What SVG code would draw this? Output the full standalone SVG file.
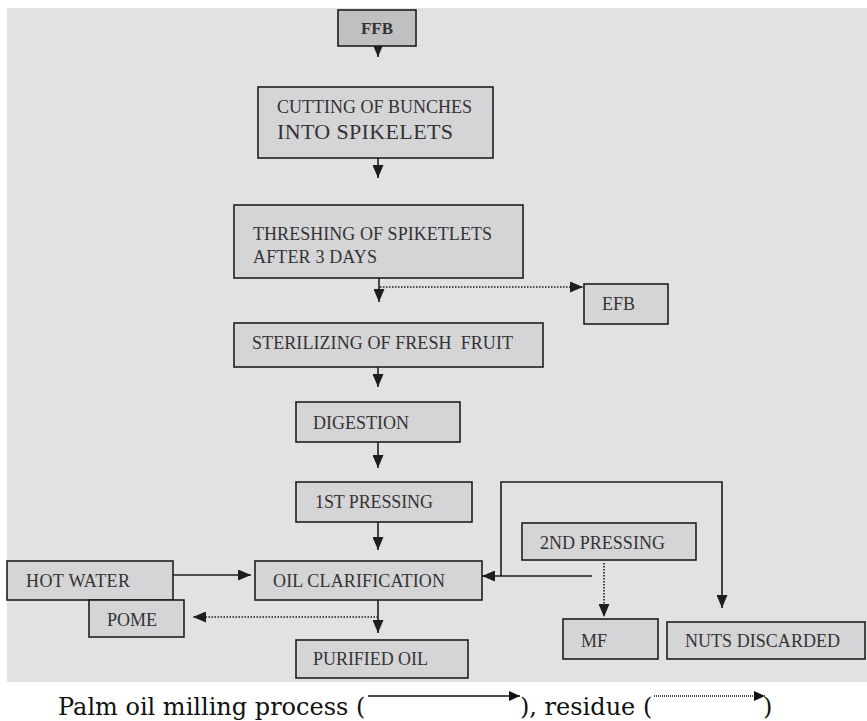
<svg xmlns="http://www.w3.org/2000/svg" width="867" height="721" viewBox="0 0 867 721">
<defs>
<marker id="ah" viewBox="0 0 13 11" refX="13" refY="5.5" markerWidth="13" markerHeight="11" markerUnits="userSpaceOnUse" orient="auto">
<path d="M0,0 L13,5.5 L0,11 z" fill="#1e1e1e"/>
</marker>
<marker id="ahs" viewBox="0 0 11 10" refX="11" refY="5" markerWidth="11" markerHeight="10" markerUnits="userSpaceOnUse" orient="auto">
<path d="M0,0 L11,5 L0,10 z" fill="#111"/>
</marker>
</defs>
<style>
.box{fill:#d5d4d7;stroke:#1e1e1e;stroke-width:1.6}
.t{font-family:"Liberation Serif","Times New Roman",serif;font-size:18px;fill:#333333}
.c{fill:none;stroke:#1e1e1e;stroke-width:1.6}
.d{fill:none;stroke:#1e1e1e;stroke-width:1.6;stroke-dasharray:1.5 1.5}
.cap{font-family:"DejaVu Serif",serif;font-size:24px;fill:#111}
</style>
<rect x="0" y="0" width="867" height="721" fill="#ffffff"/>
<rect x="7" y="8" width="860" height="674" fill="#e2e1e4"/>

<g id="connectors">
<path class="c" d="M378,46 V57" marker-end="url(#ah)"/>
<path class="c" d="M378,158 V178" marker-end="url(#ah)"/>
<path class="c" d="M379,278 V302" marker-end="url(#ah)"/>
<path class="d" d="M380,287 H583" marker-end="url(#ah)"/>
<path class="c" d="M378,367 V387" marker-end="url(#ah)"/>
<path class="c" d="M378,442 V468" marker-end="url(#ah)"/>
<path class="c" d="M378,522 V550" marker-end="url(#ah)"/>
<path class="c" d="M173,575 H251" marker-end="url(#ah)"/>
<path class="c" d="M378,600 V633" marker-end="url(#ah)"/>
<path class="d" d="M378,617 H193" marker-end="url(#ah)"/>
<path class="c" d="M592,576 H482" marker-end="url(#ah)"/>
<path class="c" d="M501,576 V482 H722 V608" marker-end="url(#ah)"/>
<path class="d" d="M604,563 V617" marker-end="url(#ah)"/>
</g>

<g id="ffb"><rect class="box" x="338" y="10" width="78" height="36" style="fill:#c0bfc2"/><text class="t" x="377" y="34" text-anchor="middle" style="font-weight:bold;font-size:17px">FFB</text></g>
<g id="cutting"><rect class="box" x="258" y="87" width="235" height="71"/><text class="t" x="277" y="113" textLength="195">CUTTING OF BUNCHES</text><text class="t" x="277" y="139" style="font-size:22px" textLength="176">INTO SPIKELETS</text></g>
<g id="threshing"><rect class="box" x="234" y="205" width="289" height="73"/><text class="t" x="253" y="240" textLength="239">THRESHING OF SPIKETLETS</text><text class="t" x="253" y="263" textLength="124">AFTER 3 DAYS</text></g>
<g id="efb"><rect class="box" x="584" y="284" width="84" height="40"/><text class="t" x="602" y="310" textLength="33">EFB</text></g>
<g id="sterilizing"><rect class="box" x="234" y="323" width="309" height="44"/><text class="t" x="252" y="349" textLength="261" xml:space="preserve">STERILIZING OF FRESH  FRUIT</text></g>
<g id="digestion"><rect class="box" x="296" y="402" width="164" height="40"/><text class="t" x="313" y="429" textLength="96">DIGESTION</text></g>
<g id="pressing1"><rect class="box" x="296" y="482" width="176" height="40"/><text class="t" x="315" y="508" textLength="118">1ST PRESSING</text></g>
<g id="clarification"><rect class="box" x="255" y="561" width="227" height="39"/><text class="t" x="273" y="587" textLength="172">OIL CLARIFICATION</text></g>
<g id="hotwater"><rect class="box" x="7" y="561" width="166" height="39"/><text class="t" x="26" y="587" textLength="104">HOT WATER</text></g>
<g id="pome"><rect class="box" x="89" y="600" width="95" height="37"/><text class="t" x="107" y="626" textLength="50">POME</text></g>
<g id="purified"><rect class="box" x="296" y="640" width="172" height="38"/><text class="t" x="313" y="665" textLength="115">PURIFIED OIL</text></g>
<g id="pressing2"><rect class="box" x="522" y="523" width="174" height="37"/><text class="t" x="540" y="549" textLength="125">2ND PRESSING</text></g>
<g id="mf"><rect class="box" x="563" y="619" width="95" height="40"/><text class="t" x="581" y="647" textLength="26">MF</text></g>
<g id="nuts"><rect class="box" x="667" y="622" width="198" height="37"/><text class="t" x="685" y="647" textLength="155">NUTS DISCARDED</text></g>

<g id="caption">
<text class="cap" x="58" y="715">Palm oil milling process (</text>
<path d="M368,696 H520" stroke="#111" stroke-width="1.6" fill="none" marker-end="url(#ahs)"/>
<text class="cap" x="520" y="715">), residue (</text>
<path d="M654,696 H765" stroke="#111" stroke-width="1.6" stroke-dasharray="1 1" fill="none" marker-end="url(#ahs)"/>
<text class="cap" x="763" y="715">)</text>
</g>
</svg>
